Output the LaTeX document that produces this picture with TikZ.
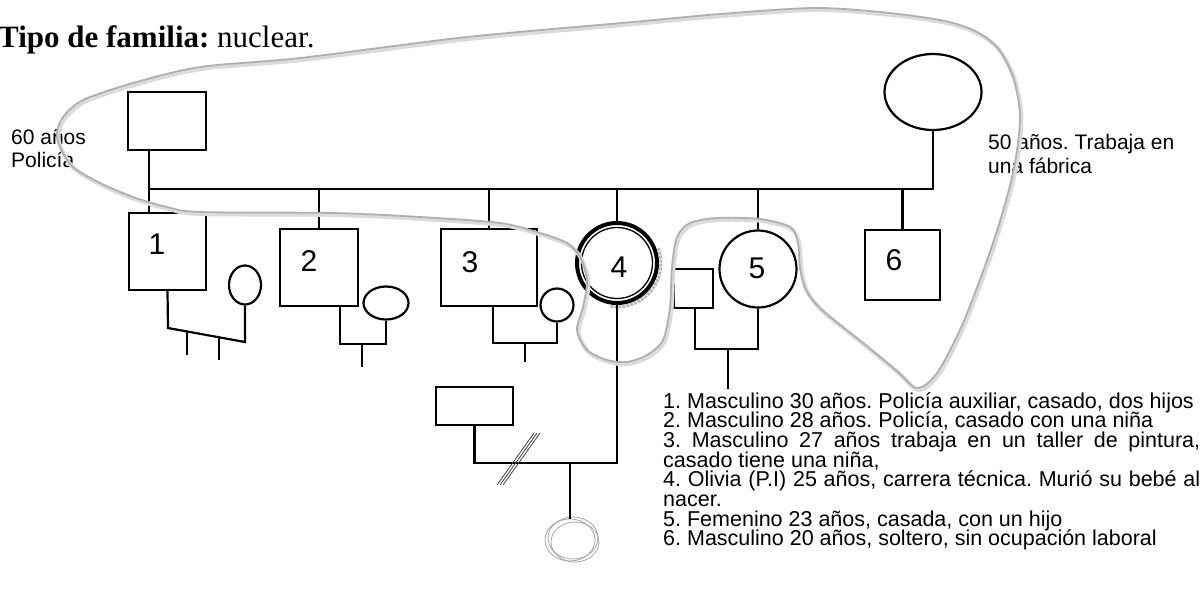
\documentclass[tikz,border=0pt]{standalone}
\usepackage{fontspec}
\setmainfont{Liberation Sans}
\newfontfamily\titlefont{Liberation Serif}
\usetikzlibrary{shapes.geometric,calc}
\frenchspacing

\tikzset{
  line/.style={line width=2.2pt},
  male/.style={draw,line width=2.2pt,rectangle,inner sep=0pt},
  female/.style={draw,line width=2.2pt,ellipse,inner sep=0pt},
  num/.style={font=\fontsize{30}{30}\selectfont,inner sep=0pt},
  note/.style={font=\fontsize{21}{23}\selectfont,inner sep=0pt,anchor=base west},
  legend/.style={font=\fontsize{21.5}{19}\selectfont,inner sep=0pt,anchor=base west},
  hogar/.style={gray!62,line width=1.8pt},
  hogarshadow/.style={gray!28,line width=4pt},
}

\begin{document}
\begin{tikzpicture}[x=1pt,y=-1pt,line cap=butt,line join=miter]
  \useasboundingbox (0,0) rectangle (1202,590);
  \node[anchor=base west,inner sep=0pt,font=\titlefont\fontsize{31}{31}\selectfont] (titulo) at (-2,47) {\textbf{Tipo de familia:} nuclear.};

  % padres
  \node[male,minimum width=78pt,minimum height=58pt] (pa) at (167,121) {};
  \node[female,minimum width=97pt,minimum height=76pt] (ma) at (933,92) {};
  \node[note] (pa1) at (11,144) {60 años};
  \node[note] (pa2) at (11,167) {Policía};
  \node[note] (ma1) at (988,149) {50 años. Trabaja en};
  \node[note] (ma2) at (988,173) {una fábrica};

  % hijos
  \node[male,minimum width=77pt,minimum height=77pt] (h1) at (167.5,251.5) {};
  \node[male,minimum width=78pt,minimum height=77pt] (h2) at (319,267.5) {};
  \node[male,minimum width=96pt,minimum height=77pt] (h3) at (489,267.5) {};
  \node[circle,draw,line width=4pt,inner sep=0pt,minimum size=80pt] (h4) at (617,263) {};
  \node[female,minimum width=77pt,minimum height=77pt] (h5) at (758,269) {};
  \node[male,minimum width=75pt,minimum height=70pt] (h6) at (902.5,265) {};
  \draw[line width=1.3pt] (h4) circle (35.5);
  \draw[gray!55,line width=3pt,densely dotted] (h4) ++(-20:44) arc (-20:100:44);
  \node[num] (n1) at (157,244) {1};
  \node[num] (n2) at (309,261) {2};
  \node[num] (n3) at (470,262) {3};
  \node[num] (n4) at (619,267) {4};
  \node[num] (n5) at (757,268) {5};
  \node[num] (n6) at (894,260) {6};

  % parejas
  \node[female,minimum width=32pt,minimum height=39pt] (e1) at (245,285) {};
  \node[female,minimum width=45pt,minimum height=33pt] (e2) at (386,303) {};
  \node[female,minimum width=33pt,minimum height=33pt] (e3) at (557,305) {};
  \node[male,minimum width=77pt,minimum height=38pt] (e4) at (474.5,406) {};
  \node[male,minimum width=39pt,minimum height=39pt] (e5) at (693.5,288.5) {};
  \node[ellipse,draw=gray!70,line width=0.8pt,inner sep=0pt,minimum width=50pt,minimum height=42pt] (bebe) at (570,540) {};
  \draw[gray!70,line width=0.8pt] (bebe) ++(3,-2) ellipse (25 and 21);
  \draw[gray!70,line width=0.8pt] (bebe) ++(5,2) ellipse (24 and 20);

  % hermandad
  \coordinate (sib) at (149,189);
  \draw[line] (pa.south -| sib) -- (sib |- h1.north);
  \draw[line] (sib) -- (sib -| ma.south) -- (ma.south);
  \foreach \h in {h2,h3,h4,h5,h6}
    \draw[line] (\h.north) -- (\h.north |- sib);

  % uniones
  \coordinate (u1a) at (168,328);
  \coordinate (u1b) at (245,342);
  \draw[line] (h1.south) -- (u1a) -- (u1b) -- (e1.south);
  \draw[line] ($(u1a)!.25!(u1b)$) -- ++(0,23);
  \draw[line] ($(u1a)!.66!(u1b)$) -- ++(0,23);

  \coordinate (u2) at (340,344);
  \draw[line] (u2 |- h2.south) -- (u2) -| (e2.south);
  \draw[line] (u2) ++(22,0) -- ++(0,23);

  \coordinate (u3) at (493,343);
  \draw[line] (u3 |- h3.south) -- (u3) -| (e3.south);
  \draw[line] (u3) ++(32,0) -- ++(0,19);

  \coordinate (u4) at (617,463);
  \draw[line] (h4.south) -- (u4) -| (e4.south);
  \draw[line] (bebe.north) -- (bebe.north |- u4);
  \foreach \d in {-3,0,3}
    \draw[line width=0.8pt,gray!50!black] (500+\d,485) -- (537+\d,433);

  \coordinate (u5) at (695,349);
  \draw[line] (u5 |- e5.south) -- (u5) -| (h5.south);
  \draw[line] (u5) ++(33,0) -- ++(0,40);

  % leyenda
  \foreach \t [count=\i] in {
    {1. Masculino 30 años. Policía auxiliar, casado, dos hijos},
    {2. Masculino 28 años. Policía, casado con una niña},
    {\makebox[537pt][s]{3. Masculino 27 años trabaja en un taller de pintura,}},
    {casado tiene una niña,},
    {\makebox[537pt][s]{4. Olivia (P.I) 25 años, carrera técnica. Murió su bebé al}},
    {nacer.},
    {5. Femenino 23 años, casada, con un hijo},
    {6. Masculino 20 años, soltero, sin ocupación laboral}}
    \node[legend] (l\i) at (663,{408+(\i-1)*19.7}) {\t};

  % hogar
  \draw[hogarshadow,shift={(1.5,2)}] plot[smooth cycle] coordinates {
    (200,67) (133,83) (83,100) (63,117) (57,133) (60,147) (73,167) (100,183)
    (133,197) (167,207) (200,212) (333,213) (420,217) (500,223) (540,233)
    (567,243) (580,257) (587,280) (583,307) (577,330) (587,350) (607,360)
    (627,362) (647,355) (663,340) (670,307) (672,267) (677,237) (690,223)
    (717,218) (760,219) (790,227) (798,243) (800,268) (806,290) (822,310)
    (863,343) (897,371) (917,388) (937,373) (963,323) (993,243) (1013,173)
    (1020,117) (1013,77) (997,47) (973,30) (940,20) (880,12) (813,8)
    (720,14) (633,22) (467,37) (300,58)};
  \draw[hogar] plot[smooth cycle] coordinates {
    (200,67) (133,83) (83,100) (63,117) (57,133) (60,147) (73,167) (100,183)
    (133,197) (167,207) (200,212) (333,213) (420,217) (500,223) (540,233)
    (567,243) (580,257) (587,280) (583,307) (577,330) (587,350) (607,360)
    (627,362) (647,355) (663,340) (670,307) (672,267) (677,237) (690,223)
    (717,218) (760,219) (790,227) (798,243) (800,268) (806,290) (822,310)
    (863,343) (897,371) (917,388) (937,373) (963,323) (993,243) (1013,173)
    (1020,117) (1013,77) (997,47) (973,30) (940,20) (880,12) (813,8)
    (720,14) (633,22) (467,37) (300,58)};
\end{tikzpicture}
\end{document}
